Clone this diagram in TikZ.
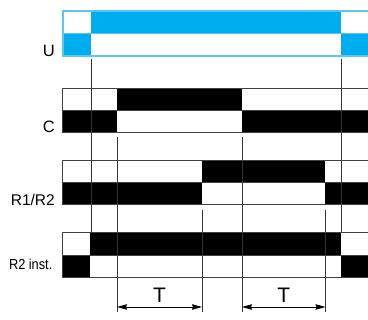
\documentclass[tikz,border=0pt]{standalone}
\usepackage{fontspec}
\setmainfont{Liberation Sans}
\usetikzlibrary{arrows.meta}
\definecolor{ublue}{HTML}{00AEEF}
\definecolor{uline}{HTML}{5CC6F2}
\tikzset{
  row/.style={line width=1pt,black!75},
  tick/.style={line width=0.8pt,black!80},
  dim/.style={line width=0.8pt,{Stealth[length=10pt,width=5.5pt,inset=1pt]}-{Stealth[length=10pt,width=5.5pt,inset=1pt]}},
  lbl/.style={anchor=base east,inner sep=0pt,font=\fontsize{16.5}{18}\selectfont},
}
\begin{document}
\begin{tikzpicture}[x=1pt,y=-1pt]
\useasboundingbox (0,0) rectangle (368,320);
% U
\fill[ublue] (91,11) rectangle (341,33.5);
\fill[ublue] (63,33.5) rectangle (91,56);
\fill[ublue] (341,33.5) rectangle (368,56);
\draw[uline,line width=1.2pt] (368,11) -- (63,11) -- (63,56) -- (368,56) (63,33.5) -- (368,33.5);
% C
\fill (117,89) rectangle (242,111);
\fill (63,111) rectangle (117,133);
\fill (242,111) rectangle (368,133);
% R1/R2
\fill (202,161) rectangle (325.5,183);
\fill (63,183) rectangle (202,205);
\fill (325.5,183) rectangle (368,205);
% R2 inst.
\fill (90,233) rectangle (341,256);
\fill (63,256) rectangle (90,278);
\fill (341,256) rectangle (368,278);
% ticks
\draw[tick] (91,59) -- (91,233);
\draw[tick] (341,59) -- (341,233);
\draw[tick] (117,137) -- (117,312);
\draw[tick] (242,137) -- (242,312);
\draw[tick] (202,210) -- (202,312);
\draw[tick] (325.5,210) -- (325.5,312);
% rows
\draw[row] (368,89) -- (63,89) -- (63,133) -- (368,133) (63,111) -- (368,111);
\draw[row] (368,161) -- (63,161) -- (63,205) -- (368,205) (63,183) -- (368,183);
\draw[row] (368,233) -- (63,233) -- (63,278) -- (368,278) (63,256) -- (368,256);
% labels
\node[lbl] (lu) at (55,57) {U};
\node[lbl] (lc) at (55,133) {C};
\node[lbl,font=\fontsize{15.5}{18}\selectfont] (lr) at (55,205.5) {R1/R2};
\node[lbl,font=\fontsize{14.5}{18}\selectfont,xscale=0.88] (li) at (52.5,270) {R2 inst.};
% T
\coordinate (a1) at (117,307);
\coordinate (a2) at (202,307);
\coordinate (b1) at (242,307);
\coordinate (b2) at (325.5,307);
\draw[dim] (a1) -- (a2) node[midway,above=4pt,inner sep=0pt,font=\fontsize{21}{22}\selectfont] (ta) {T};
\draw[dim] (b1) -- (b2) node[midway,above=4pt,inner sep=0pt,font=\fontsize{21}{22}\selectfont] (tb) {T};
\end{tikzpicture}
\end{document}
